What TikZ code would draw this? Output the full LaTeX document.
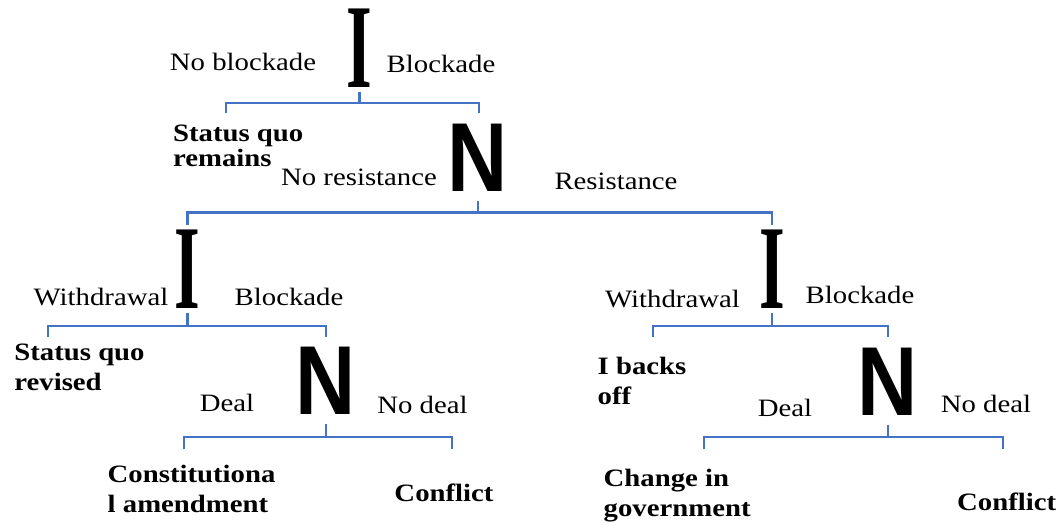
\documentclass[tikz,border=0pt]{standalone}
\usepackage{fontspec}
\setmainfont{Liberation Serif}[FakeStretch=1.15]
\newfontfamily\playeri{Liberation Serif}[FakeStretch=0.55]
\newfontfamily\playern{Liberation Sans}[FakeStretch=0.85]
\definecolor{treeblue}{HTML}{4472C4}

\begin{document}
\begin{tikzpicture}[
    x=0.5pt,
    y=-0.5pt,
    every node/.style={
      inner sep=0pt,
      font=\fontsize{12.5}{15}\selectfont
    },
    move/.style={anchor=center},
    outcome/.style={
      anchor=north west,
      align=left,
      font=\fontsize{12.5}{15}\selectfont\bfseries
    },
    playerI/.style={
      font=\playeri\bfseries\fontsize{60}{60}\selectfont
    },
    playerN/.style={
      font=\playern\bfseries\fontsize{49}{49}\selectfont
    },
    branch/.style={draw=treeblue, line width=1.1pt},
    stemI/.style={branch, shorten <=2pt},
    stemN/.style={branch, shorten <=4.5pt}
  ]
    \useasboundingbox (0, 0) rectangle (1060, 525);

    \node[playerI] (i1) at (359.5, 48) {I};
    \node[move] (noblk) at (243, 62) {No blockade};
    \node[move] (blk1) at (441, 64) {Blockade};
    \node[outcome] (sqremain) at (172.7, 125) {Status quo\\[-2.5pt]remains};

    \node[playerN] (n1) at (478, 158) {N};
    \node[move] (nores) at (359, 177.5) {No resistance};
    \node[move] (res) at (616, 181) {Resistance};

    \node[playerI] (i2) at (187.5, 269.7) {I};
    \node[move] (wd1) at (101, 297) {Withdrawal};
    \node[move] (blk2) at (289, 297) {Blockade};
    \node[outcome] (sqrevised) at (14, 343.3) {Status quo\\revised};

    \node[playerN] (n2) at (326, 381) {N};
    \node[move] (deal1) at (227, 403) {Deal};
    \node[move] (nodeal1) at (422.5, 404.5) {No deal};
    \node[outcome] (amend) at (107.3, 465) {Constitutiona\\l amendment};
    \node[outcome, anchor=center] (conf1) at (444, 493) {Conflict};

    \node[playerI] (i3) at (772, 269.5) {I};
    \node[move] (wd2) at (672.5, 299) {Withdrawal};
    \node[move] (blk3) at (860, 295) {Blockade};
    \node[outcome] (backoff) at (597.3, 356.7) {I backs\\off};

    \node[playerN] (n3) at (888, 381.7) {N};
    \node[move] (deal2) at (785, 408) {Deal};
    \node[move] (nodeal2) at (986, 403.5) {No deal};
    \node[outcome] (govt) at (603.3, 468.3) {Change in\\government};
    \node[outcome, anchor=center] (conf2) at (1006.7, 501.7) {Conflict};

    \coordinate (b1) at (359.5, 103);
    \coordinate (b1l) at (226, 113);
    \coordinate (b1r) at (479, 113);
    \coordinate (b2) at (478, 212.5);
    \coordinate (b2l) at (187.5, 225);
    \coordinate (b2r) at (772, 225);
    \coordinate (b3) at (187.5, 326);
    \coordinate (b3l) at (48.3, 337);
    \coordinate (b3r) at (326, 337);
    \coordinate (b4) at (326, 437);
    \coordinate (b4l) at (184.3, 449.3);
    \coordinate (b4r) at (451.7, 449.3);
    \coordinate (b5) at (772, 326);
    \coordinate (b5l) at (652.7, 337);
    \coordinate (b5r) at (888, 337);
    \coordinate (b6) at (888, 437);
    \coordinate (b6l) at (704, 449.3);
    \coordinate (b6r) at (1002.7, 449.3);

    \draw[stemI] (i1.south) to (b1);
    \draw[branch] (b1l) |- (b1) -| (b1r);
    \draw[stemN] (n1.south) to (b2);
    \draw[branch] (b2l) |- (b2) -| (b2r);
    \draw[stemI] (i2.south) to (b3);
    \draw[branch] (b3l) |- (b3) -| (b3r);
    \draw[stemN] (n2.south) to (b4);
    \draw[branch] (b4l) |- (b4) -| (b4r);
    \draw[stemI] (i3.south) to (b5);
    \draw[branch] (b5l) |- (b5) -| (b5r);
    \draw[stemN] (n3.south) to (b6);
    \draw[branch] (b6l) |- (b6) -| (b6r);
  \end{tikzpicture}
\end{document}
